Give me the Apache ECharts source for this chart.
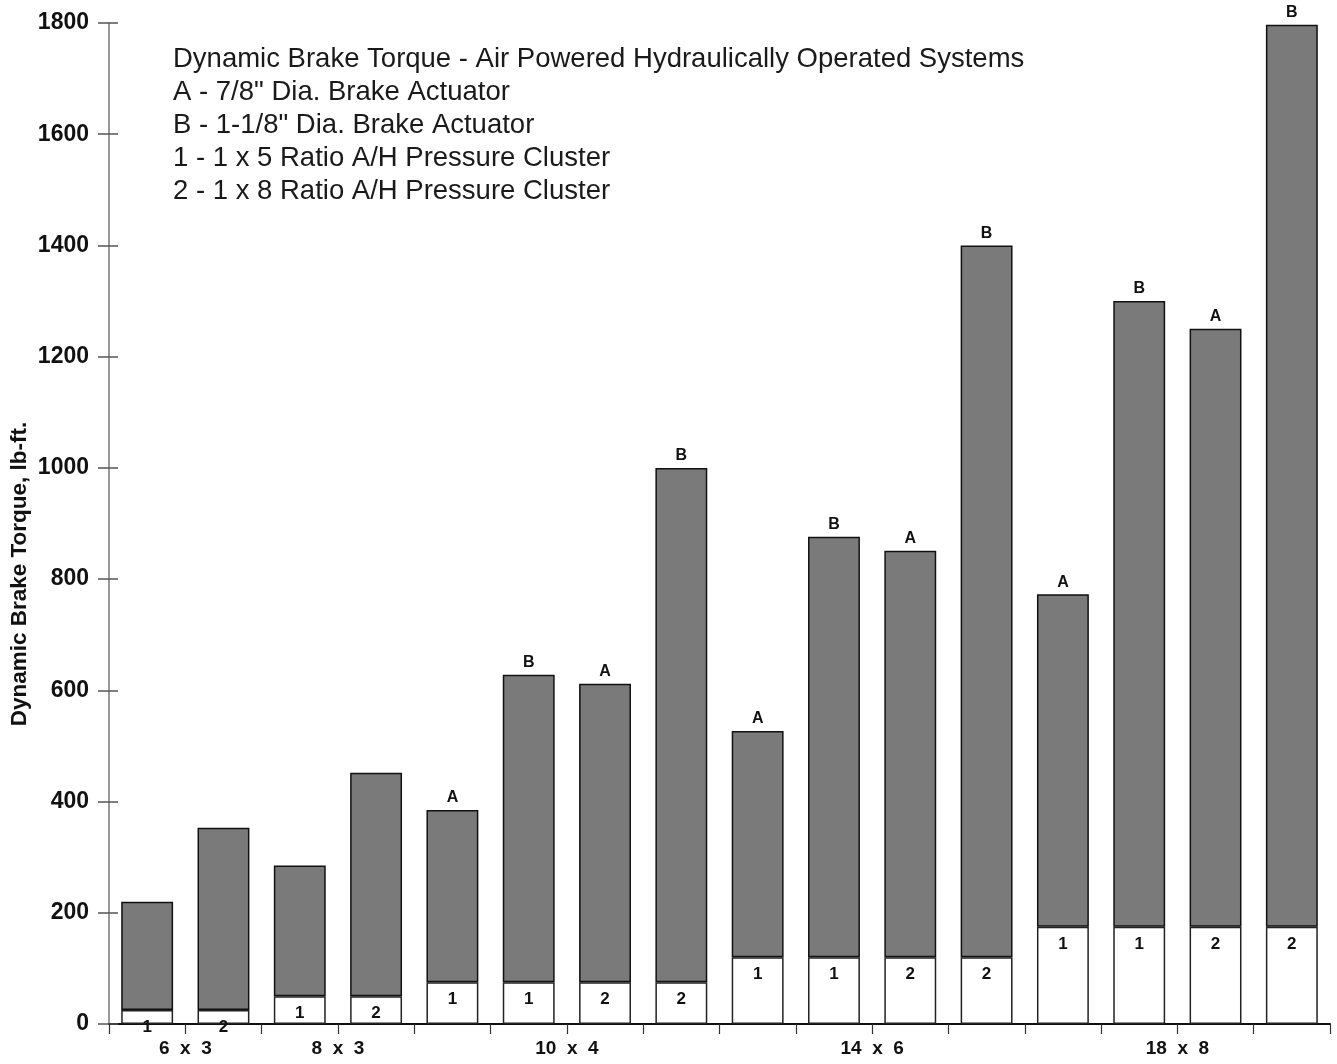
<!DOCTYPE html>
<html>
<head>
<meta charset="utf-8">
<script src="https://cdn.jsdelivr.net/npm/echarts@6/dist/echarts.min.js"></script>
<style>html,body{margin:0;padding:0;background:#fff;}#chart{width:1337px;height:1064px;}</style>
</head>
<body>
<div id="chart"></div>
<script>
// ---- data ----
var slots = ['s1','s2','s3','s4','s5','s6','s7','s8','s9','s10','s11','s12','s13','s14','s15','s16'];
var totals = [220, 353, 285, 452, 385, 628, 612, 1000, 527, 876, 851, 1400, 773, 1300, 1250, 1797];
var bases  = [25, 25, 50, 50, 75, 75, 75, 75, 120, 120, 120, 120, 175, 175, 175, 175];
var baseLabels = ['1','2','1','2','1','1','2','2','1','1','2','2','1','1','2','2'];
var topLabels  = ['','','','','A','B','A','B','A','B','A','B','A','B','A','B'];
var groupLabels = ['6 x 3', '8 x 3', '10 x 4', '14 x 6', '18 x 8'];
var groupPositions = [1, 3, 6, 10, 14];
var yTicks = [0, 200, 400, 600, 800, 1000, 1200, 1400, 1600, 1800];
var yAxisTitle = 'Dynamic Brake Torque, lb-ft.';
var legendLines = [
  'Dynamic Brake Torque - Air Powered Hydraulically Operated Systems',
  'A - 7/8" Dia. Brake Actuator',
  'B - 1-1/8" Dia. Brake Actuator',
  '1 - 1 x 5 Ratio A/H Pressure Cluster',
  '2 - 1 x 8 Ratio A/H Pressure Cluster'
];

var upper = totals.map(function (t, i) { return t - bases[i]; });
var FONT = '"Liberation Sans", Arial, Helvetica, sans-serif';

var chart = echarts.init(document.getElementById('chart'));
chart.setOption({
  animation: false,
  backgroundColor: '#fff',
  title: {
    text: legendLines.join('\n'),
    left: 168,
    top: 38,
    textStyle: { fontFamily: FONT, fontSize: 27.5, fontWeight: 'normal', color: '#1a1a1a', lineHeight: 33 }
  },
  graphic: [
    {
      type: 'text',
      x: 20,
      y: 574,
      rotation: Math.PI / 2,
      style: {
        text: yAxisTitle,
        fontFamily: FONT,
        fontSize: 22.5,
        fontWeight: 'bold',
        fill: '#111',
        align: 'center',
        verticalAlign: 'middle'
      }
    }
  ],
  grid: { left: 109, right: 7, top: 23, bottom: 40, containLabel: false },
  xAxis: [
    {
      type: 'category',
      data: slots,
      axisLine: { show: true, lineStyle: { color: '#111', width: 2 } },
      axisTick: { show: false },
      axisLabel: { show: false }
    },
    {
      type: 'value',
      min: 0,
      max: 16,
      interval: 1,
      position: 'bottom',
      axisLine: { show: false },
      axisTick: { show: true, length: 10, lineStyle: { color: '#333', width: 1.2 } },
      splitLine: { show: false },
      axisLabel: {
        margin: 15,
        fontFamily: FONT,
        fontSize: 19,
        fontWeight: 'bold',
        color: '#111',
        formatter: function (v) {
          var k = groupPositions.indexOf(Math.round(v));
          return k >= 0 ? groupLabels[k].split(' ').join('  ') : '';
        }
      }
    }
  ],
  yAxis: [
    {
      type: 'value',
      min: yTicks[0],
      max: yTicks[yTicks.length - 1],
      interval: 200,
      axisLine: { show: true, lineStyle: { color: '#777', width: 1.5 } },
      axisTick: { show: true, length: 11, lineStyle: { color: '#555', width: 1.5 } },
      splitLine: { show: false },
      axisLabel: {
        margin: 20,
        fontFamily: FONT,
        fontSize: 23,
        fontWeight: 'bold',
        color: '#111',
        formatter: function (v) { return String(v); }
      }
    },
    {
      type: 'value',
      min: yTicks[0],
      max: yTicks[yTicks.length - 1],
      interval: 200,
      position: 'left',
      offset: 0,
      axisLine: { show: false },
      axisTick: { show: true, inside: true, length: 9, lineStyle: { color: '#555', width: 1.5 } },
      axisLabel: { show: false },
      splitLine: { show: false }
    }
  ],
  series: [
    {
      type: 'bar',
      stack: 'torque',
      xAxisIndex: 0,
      yAxisIndex: 0,
      barCategoryGap: '32%',
      data: bases,
      itemStyle: { color: '#fff', borderColor: '#222', borderWidth: 1.5 },
      label: {
        show: true,
        position: 'insideTop',
        distance: 9,
        fontFamily: FONT,
        fontSize: 17,
        fontWeight: 'bold',
        color: '#111',
        formatter: function (p) { return baseLabels[p.dataIndex]; }
      }
    },
    {
      type: 'bar',
      stack: 'torque',
      xAxisIndex: 0,
      yAxisIndex: 0,
      barCategoryGap: '32%',
      data: upper,
      itemStyle: { color: '#7a7a7a', borderColor: '#111', borderWidth: 1.5 },
      label: {
        show: true,
        position: 'top',
        distance: 4,
        fontFamily: FONT,
        fontSize: 16,
        fontWeight: 'bold',
        color: '#111',
        formatter: function (p) { return topLabels[p.dataIndex]; }
      }
    }
  ]
});
</script>
</body>
</html>
